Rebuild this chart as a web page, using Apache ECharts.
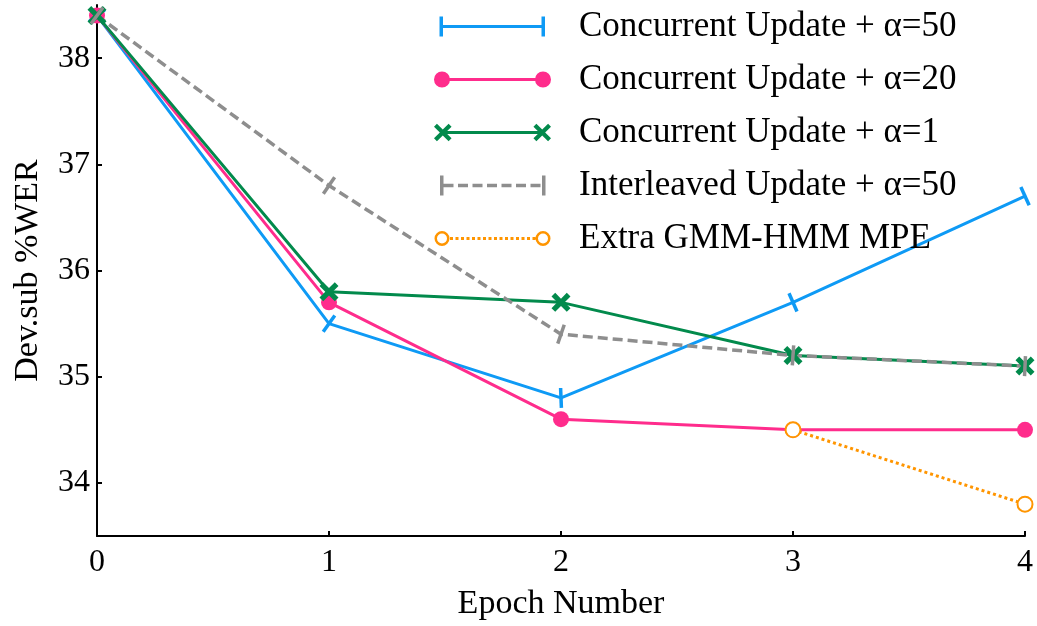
<!DOCTYPE html>
<html>
<head>
<meta charset="utf-8">
<script src="https://cdn.jsdelivr.net/npm/echarts@6/dist/echarts.min.js"></script>
<style>
html,body{margin:0;padding:0;background:#fff;}
#chart{width:1037px;height:626px;}
</style>
</head>
<body>
<div id="chart"></div>
<script>
// ---- data ----
const epochs = [0, 1, 2, 3, 4];
const yTicks = [34, 35, 36, 37, 38];
const seriesNames = [
  'Concurrent Update + α=50',
  'Concurrent Update + α=20',
  'Concurrent Update + α=1',
  'Interleaved Update + α=50',
  'Extra GMM-HMM MPE'
];
const concurrent50 = [38.4, 35.5, 34.8, 35.7, 36.7];
const concurrent20 = [38.4, 35.7, 34.6, 34.5, 34.5];
const concurrent1  = [38.4, 35.8, 35.7, 35.2, 35.1];
const interleaved50 = [38.4, 36.8, 35.4, 35.2, 35.1];
const extraMPE = [null, null, null, 34.5, 33.8];

// ---- style ----
const FONT = 'Liberation Serif';
const C_BLUE = '#0E9AF5', C_PINK = '#FF2C8C', C_GREEN = '#028A4C', C_GREY = '#8E8E8E', C_ORANGE = '#FF9500';

function pairs(vals){ return epochs.map((x,i)=> vals[i]==null ? [x,'-'] : [x, vals[i]]); }

// path helpers (all clockwise in screen coords unless cw=false)
function rect(x,y,w,h){ return `M${x} ${y}h${w}v${h}h${-w}Z`; }
function circ(cx,cy,r,cw){
  const s = cw ? 1 : 0;
  return `M${cx-r} ${cy}A${r} ${r} 0 1 ${s} ${cx+r} ${cy}A${r} ${r} 0 1 ${s} ${cx-r} ${cy}Z`;
}
function cross(cx,cy,L,a){
  const p = [[a,-L],[a,-a],[L,-a],[L,a],[a,a],[a,L],[-a,L],[-a,a],[-L,a],[-L,-a],[-a,-a],[-a,-L]];
  const r = Math.SQRT1_2;
  return 'M' + p.map(([x,y])=>`${(cx+(x-y)*r).toFixed(2)} ${(cy+(x+y)*r).toFixed(2)}`).join('L') + 'Z';
}
const IW = 117, IH = 20;
const corners = `M0 0L0 0ZM${IW} ${IH}L${IW} ${IH}Z`;
function dashes(x0,x1,y,th,d,g){
  let s=''; for(let x=x0; x<x1; x+=d+g){ s += rect(x, y-th/2, Math.min(d, x1-x), th); } return s;
}
const iconBlue = 'path://' + corners + rect(5.5,0,3.5,20) + rect(107.5,0,3.5,20) + rect(7,8.5,102,3);
const iconPink = 'path://' + corners + circ(8,10,8,true) + circ(109,10,8,true) + rect(8,8.5,101,3);
const iconGreen = 'path://' + corners + cross(8,10,10.5,2.1) + cross(109,10,10.5,2.1) + rect(8,8.5,101,3);
const iconGrey = 'path://' + corners + rect(6,0,3.5,20) + rect(108,0,3.5,20) + dashes(9.5,108,10,3.5,10,4.5);
const iconOrange = 'path://' + corners + circ(8,10,7.5,true) + circ(8,10,5,false) + circ(109,10,7.5,true) + circ(109,10,5,false) + dashes(16,101.5,10,3,3,2.5);

const barSymbol = 'path://M0 0h4v20h-4z';
const xSymbol = 'path://' + cross(10,10,9,2.2);

const chart = echarts.init(document.getElementById('chart'), null, {renderer:'canvas'});

const option = {
  backgroundColor: '#fff',
  animation: false,
  grid: {left: 97, right: 12, top: 5, bottom: 83, containLabel: false},
  legend: {
    orient: 'vertical',
    left: 434, top: 9,
    padding: 0,
    itemWidth: IW, itemHeight: IH,
    itemGap: 18,
    symbolKeepAspect: true,
    textStyle: {fontFamily: FONT, fontSize: 35, color: '#000', padding: [0,0,0,23]},
    data: [
      {name: seriesNames[0], icon: iconBlue, itemStyle: {color: C_BLUE, borderWidth: 0}},
      {name: seriesNames[1], icon: iconPink, itemStyle: {color: C_PINK, borderWidth: 0}},
      {name: seriesNames[2], icon: iconGreen, itemStyle: {color: C_GREEN, borderWidth: 0}},
      {name: seriesNames[3], icon: iconGrey, itemStyle: {color: C_GREY, borderWidth: 0}},
      {name: seriesNames[4], icon: iconOrange, itemStyle: {color: C_ORANGE, borderWidth: 0}}
    ]
  },
  xAxis: {
    type: 'value', min: 0, max: 4, interval: 1,
    name: 'Epoch Number', nameLocation: 'middle', nameGap: 51,
    nameTextStyle: {fontFamily: FONT, fontSize: 34, color: '#000'},
    axisLine: {lineStyle: {color: '#000', width: 2}},
    axisTick: {inside: true, length: 5, lineStyle: {color: '#000', width: 2}},
    axisLabel: {fontFamily: FONT, fontSize: 32, color: '#000', margin: 11},
    splitLine: {show: false}
  },
  yAxis: {
    type: 'value', min: 33.5, max: 38.5,
    name: 'Dev.sub %WER', nameLocation: 'middle', nameGap: 52,
    nameTextStyle: {fontFamily: FONT, fontSize: 34, color: '#000'},
    axisLine: {show: true, lineStyle: {color: '#000', width: 2}},
    axisTick: {show: true, inside: true, length: 5, customValues: yTicks, lineStyle: {color: '#000', width: 2}},
    axisLabel: {fontFamily: FONT, fontSize: 32, color: '#000', margin: 7, customValues: yTicks},
    splitLine: {show: false}
  },
  series: [
    {name: seriesNames[0], type: 'line', data: pairs(concurrent50), color: C_BLUE,
     lineStyle: {width: 3, color: C_BLUE}, symbol: barSymbol, symbolSize: [3.5, 20],
     itemStyle: {color: C_BLUE}},
    {name: seriesNames[1], type: 'line', data: pairs(concurrent20), color: C_PINK,
     lineStyle: {width: 3, color: C_PINK}, symbol: 'circle', symbolSize: 16,
     itemStyle: {color: C_PINK}},
    {name: seriesNames[2], type: 'line', data: pairs(concurrent1), color: C_GREEN,
     lineStyle: {width: 3, color: C_GREEN}, symbol: xSymbol, symbolSize: 19,
     itemStyle: {color: C_GREEN}},
    {name: seriesNames[3], type: 'line', data: pairs(interleaved50), color: C_GREY,
     lineStyle: {width: 3.5, color: C_GREY, type: [10, 5]}, symbol: barSymbol, symbolSize: [3.5, 20],
     itemStyle: {color: C_GREY}},
    {name: seriesNames[4], type: 'line', data: pairs(extraMPE), color: C_ORANGE, connectNulls: false,
     lineStyle: {width: 3, color: C_ORANGE, type: [3, 3]}, symbol: 'emptyCircle', symbolSize: 15,
     itemStyle: {color: C_ORANGE, borderColor: C_ORANGE, borderWidth: 2.5}}
  ]
};
chart.setOption(option);

// rotate bar markers to be perpendicular to local line direction
function rotated(vals){
  const pts = epochs.map((x,i)=> chart.convertToPixel({gridIndex:0}, [x, vals[i]]));
  return epochs.map((x,i)=>{
    let dx=0, dy=0;
    [[i-1,i],[i,i+1]].forEach(([a,b])=>{
      if(a>=0 && b<pts.length){
        const ux = pts[b][0]-pts[a][0], uy = pts[b][1]-pts[a][1];
        const n = Math.hypot(ux,uy) || 1; dx += ux/n; dy += uy/n;
      }
    });
    const ang = Math.atan2(-dy, dx) * 180 / Math.PI;
    return {value: [x, vals[i]], symbolRotate: ang};
  });
}
chart.setOption({series: [
  {data: rotated(concurrent50)}, {}, {}, {data: rotated(interleaved50)}, {}
]});
</script>
</body>
</html>
